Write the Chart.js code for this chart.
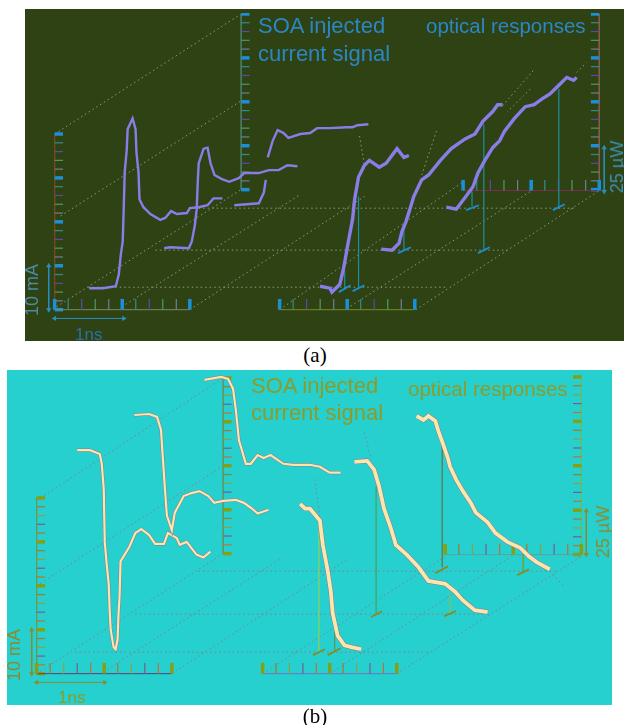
<!DOCTYPE html>
<html>
<head>
<meta charset="utf-8">
<title>SOA current signal and optical responses</title>
<script src="https://cdn.jsdelivr.net/npm/chart.js@4"></script>
<style>
    html, body { margin: 0; padding: 0; background: #fff; }
    body { position: relative; width: 624px; height: 725px; overflow: hidden; }
    .panel { position: absolute; overflow: hidden; }
    .panel canvas { position: absolute; left: 0; top: 0; }
    .txt { position: absolute; font-family: "Liberation Sans", sans-serif; font-size: 22px; line-height: 24px; white-space: nowrap; }
    .opt { font-size: 20.5px; }
    .small { font-size: 17px; }
    .rot { font-size: 18px; transform: translate(-50%, -50%) rotate(-90deg); }
    .cap { position: absolute; width: 40px; text-align: center; font-family: "Liberation Serif", serif; font-size: 21px; line-height: 20px; color: #000; }
</style>
</head>
<body>
<div class="panel" id="panelA" style="left:25px;top:9px;width:599px;height:332px;background:#2f4213">
    <canvas id="chartA" width="599" height="332"></canvas>
    <span class="txt" style="left:233px;top:5px;color:#2b87c4">SOA injected</span>
    <span class="txt" style="left:233px;top:33px;color:#2b87c4">current signal</span>
    <span class="txt opt" style="left:401px;top:5px;color:#2b87c4">optical responses</span>
    <span class="txt small" style="left:50px;top:314px;color:#2b6fa8">1ns</span>
    <span class="txt rot" style="left:7px;top:281px;color:#4b8aa0">10 mA</span>
    <span class="txt rot" style="left:592px;top:158px;color:#3a8fb0">25 µW</span>
</div>
<div class="cap" style="left:295px;top:345px">(a)</div>
<div class="panel" id="panelB" style="left:7px;top:370px;width:605px;height:335px;background:#25d0cf">
    <canvas id="chartB" width="605" height="335"></canvas>
    <span class="txt" style="left:244px;top:4px;color:#8e9b2a">SOA injected</span>
    <span class="txt" style="left:244px;top:31px;color:#8e9b2a">current signal</span>
    <span class="txt opt" style="left:401px;top:7px;color:#8e9b2a">optical responses</span>
    <span class="txt small" style="left:51px;top:316px;color:#8e9b2a">1ns</span>
    <span class="txt rot" style="left:7px;top:285px;color:#8e8a30">10 mA</span>
    <span class="txt rot" style="left:596px;top:162px;color:#8e8a30">25 µW</span>
</div>
<div class="cap" style="left:295px;top:706px">(b)</div>

<script>

// (a) current signal traces
const aCurrentFront = [[86,291],[100,291],[113,289],[116,277],[118,257],[120,243],[121,210],[122,172],[124,150],[125,128],[130,117],[133,128],[134,153],[136,172],[137,200],[141,208],[148,215],[158,221],[163,219],[169,212],[175,215],[185,214],[188,209],[197,208],[206,206],[212,199],[221,199]];
const aCurrentMid = [[162,250],[168,249],[187,250],[190,243],[193,227],[195,210],[196,183],[197,163],[202,148],[206,147],[209,163],[213,175],[220,179],[228,182],[238,178],[243,173],[258,173],[268,170],[278,170],[287,165],[297,166]];
const aCurrentBack1 = [[233,206],[258,204],[263,193],[265,180]];
const aCurrentBack2 = [[267,157],[272,140],[277,129],[283,132],[288,137],[300,133],[310,132],[317,127],[330,127],[347,126],[353,126],[358,124],[369,123]];
// (a) optical traces
const aOpticalFront = [[320,289],[330,291],[332,295],[340,287],[344,270],[348,247],[353,220],[355,200],[359,177],[365,165],[370,160],[380,167],[387,163],[398,148],[405,157],[410,155]];
const aOpticalMid = [[382,251],[393,252],[400,245],[403,233],[407,223],[412,207],[415,197],[423,180],[430,175],[442,160],[453,148],[467,138],[477,133],[485,120],[495,110],[500,103],[505,103]];
const aOpticalBack = [[448,208],[458,210],[467,198],[475,187],[480,173],[487,160],[495,147],[502,140],[507,130],[517,117],[528,105],[537,103],[545,97],[553,92],[562,83],[570,75],[577,78],[580,75]];

// (b) current signal traces
const bCurrentFront = [[74,448],[87,448],[97,452],[99,462],[101,488],[102,542],[104,565],[106,585],[107,612],[108,632],[111,650],[113,652],[115,642],[116,615],[117,598],[118,562],[127,547],[133,533],[139,529],[147,535],[153,544],[162,544],[166,533],[175,538],[178,545],[185,542],[195,555],[202,558],[209,552]];
const bCurrentMid = [[132,412],[147,411],[155,414],[159,427],[161,458],[163,488],[165,515],[170,530],[173,512],[182,495],[190,492],[198,490],[207,495],[213,502],[222,500],[235,499],[243,502],[250,507],[257,513],[268,509]];
const bCurrentBack = [[203,376],[220,373],[227,375],[232,385],[235,408],[238,438],[245,462],[250,462],[257,453],[263,456],[270,453],[283,462],[293,463],[310,463],[320,465],[330,471],[341,471]];
// (b) optical traces
const bOpticalFront = [[300,503],[305,508],[310,508],[320,520],[323,545],[328,572],[331,592],[333,615],[338,638],[345,648],[353,650],[362,652]];
const bOpticalMid = [[355,460],[368,459],[375,468],[380,485],[385,508],[392,528],[397,545],[408,555],[420,568],[430,582],[447,585],[457,593],[465,602],[477,612],[490,614]];
const bOpticalBack = [[418,413],[425,417],[430,413],[437,418],[440,428],[445,442],[450,457],[452,465],[458,478],[465,490],[473,502],[478,512],[490,522],[498,533],[510,542],[523,548],[532,557],[540,563],[553,570]];

// oblique and horizontal dotted guide lines, [x1,y1,x2,y2]
const aGuides = [[51,133,240,10],[57,217,240,99],[53,310,240,190],[119,310,300,195],[188,313,365,197],[279,313,465,182],[347,312,533,192],[417,313,603,191],
    [85,290,447,290],[153,252,510,252],[197,209,577,209],[423,175,438,130],[505,104,537,67],[533,87,510,110],[580,70,590,60],[360,135,365,165]];
const bGuides = [[37,497,222,374],[33,587,222,464],[33,677,222,554],[101,675,282,558],[170,677,348,560],[262,677,447,557],[330,677,517,555],[398,677,585,557],
    [72,655,430,655],[133,616,490,616],[197,572,560,572],[365,430,372,457],[315,478,320,518],[553,572,567,587]];

// stems below the optical traces, [x,yTop,yBottom] and their small feet [x1,y1,x2,y2]
const aStems = [[359,197,290],[345,273,292],[405,230,253],[486,123,252],[474,192,207],[562,87,208]];
const aFeet = [[353,294,365,288],[339,295,351,288],[399,255,412,249],[480,255,492,249],[468,211,481,206],[556,211,568,205]];
const bStems = [[319,518,654],[335,628,653],[377,485,615],[452,595,615],[444,438,568],[526,555,572]];
const bFeet = [[313,658,325,652],[328,658,341,651],[372,619,383,613],[446,618,458,613],[437,574,450,567],[520,576,532,570]];
const bStemColors = ['#8ad05a', '#5f9a50', '#4fa060', '#80c060', '#5f7a4f', '#70a030'];

// axes: vertical frames [x,yTop,yBottom,tickDir], horizontal frames [xLeft,xRight,y]
const aVertical = [[51,133,313,1],[240,10,190,1],[603,10,190,-1]];
const aHorizontal = [[51,188,313],[279,416,313],[465,603,191]];
const bVertical = [[33,497,677,1],[222,374,554,1],[585,373,555,-1]];
const bHorizontal = [[33,170,677],[262,398,677],[447,585,555]];

// double arrows [x1,y1,x2,y2]
const aArrows = [[51,322,121,322],[45,268,45,313],[608,147,608,192]];
const bArrows = [[33,686,102,686],[28,632,28,677],[590,510,590,555]];

const aMinorColors = ['#7d6a9a', '#2f8f8f', '#5a4aa8', '#4f9a6a', '#6d7f9a'];
const bMinorColors = ['#5e7fb0', '#a07a30', '#90a040', '#7a5a90', '#c07030'];
const aAxisColors = ['#7a4a1a', '#4a7a60', '#8a5a50', '#7a8a60', '#7a8a20', '#7a3050'];
const bAxisColors = ['#6a9a60', '#5a9a70', '#60c070', '#6a3a70', '#7a70c0', '#60a0a0'];

function line(points, color, width, dash) {
    return {
        data: points.map(p => ({ x: p[0], y: p[1] })),
        showLine: true,
        borderColor: color,
        borderWidth: width,
        borderDash: dash || [],
        pointRadius: 0,
        tension: 0
    };
}

function buildAxes(vertical, horizontal, bigColor, minor, axisColors) {
    const sets = [];
    vertical.forEach((v, n) => {
        sets.push(line([[v[0], v[1]], [v[0], v[2]]], axisColors[n], 1));
        for (let i = 0; i <= 20; i++) {
            const y = v[1] + (v[2] - v[1]) * i / 20;
            const big = i % 5 === 0;
            sets.push(line([[v[0], y], [v[0] + v[3] * 8.5, y]], big ? bigColor : minor[i % minor.length], big ? 3.5 : 1.2));
        }
    });
    horizontal.forEach((h, n) => {
        sets.push(line([[h[0], h[2]], [h[1], h[2]]], axisColors[n + 3], 1));
        for (let i = 0; i <= 10; i++) {
            const x = h[0] + (h[1] - h[0]) * i / 10;
            const big = i % 5 === 0;
            sets.push(line([[x, h[2]], [x, h[2] - 11]], big ? bigColor : minor[i % minor.length], big ? 3.5 : 1.2));
        }
    });
    return sets;
}

function arrowSets(arrows, color) {
    const sets = [];
    arrows.forEach(a => {
        const horizontal = a[1] === a[3];
        const s = line([[a[0], a[1]], [a[2], a[3]]], color, 1);
        s.pointRadius = 3;
        s.pointStyle = 'triangle';
        s.pointBackgroundColor = color;
        s.pointBorderColor = color;
        s.pointBorderWidth = 0;
        s.pointRotation = horizontal ? [-90, 90] : [0, 180];
        sets.push(s);
    });
    return sets;
}

function makeChart(id, xMin, xMax, yMin, yMax, datasets) {
    // Chart.js paints the first dataset last, so flip to keep the traces on top
    return new Chart(document.getElementById(id), {
        type: 'scatter',
        data: { datasets: datasets.reverse() },
        options: {
            responsive: false,
            animation: false,
            layout: { padding: 0 },
            plugins: { legend: { display: false }, tooltip: { enabled: false } },
            scales: {
                x: { type: 'linear', display: false, min: xMin, max: xMax },
                y: { type: 'linear', display: false, min: yMin, max: yMax, reverse: true }
            }
        }
    });
}

// panel (a)
const aSets = [];
aGuides.forEach(g => aSets.push(line([[g[0], g[1]], [g[2], g[3]]], '#8a9a80', 1, [1.5, 3])));
buildAxes(aVertical, aHorizontal, '#1c8fd8', aMinorColors, aAxisColors).forEach(s => aSets.push(s));
aStems.forEach(s => aSets.push(line([[s[0], s[1]], [s[0], s[2]]], '#1f8f9f', 1.2)));
aFeet.forEach(f => aSets.push(line([[f[0], f[1]], [f[2], f[3]]], '#1c8fd8', 1.8)));
arrowSets(aArrows, '#2a8fc0').forEach(s => aSets.push(s));
[aCurrentFront, aCurrentMid, aCurrentBack1, aCurrentBack2].forEach(c => aSets.push(line(c, '#8a7de8', 2.4)));
[aOpticalFront, aOpticalMid, aOpticalBack].forEach(c => aSets.push(line(c, '#8a7de8', 3.4)));
makeChart('chartA', 25, 624, 9, 341, aSets);

// panel (b)
const bSets = [];
bGuides.forEach(g => bSets.push(line([[g[0], g[1]], [g[2], g[3]]], '#8a7a90', 1, [1.5, 3])));
buildAxes(bVertical, bHorizontal, '#86a014', bMinorColors, bAxisColors).forEach(s => bSets.push(s));
bStems.forEach((s, i) => bSets.push(line([[s[0], s[1]], [s[0], s[2]]], bStemColors[i], 1.3)));
bFeet.forEach(f => bSets.push(line([[f[0], f[1]], [f[2], f[3]]], '#8a8a20', 1.8)));
arrowSets(bArrows, '#8e8a30').forEach(s => bSets.push(s));
[bCurrentFront, bCurrentMid, bCurrentBack].forEach(c => {
    bSets.push(line(c, '#8a7a90', 3.2));
    bSets.push(line(c, '#fbe6ac', 2.2));
});
[bOpticalFront, bOpticalMid, bOpticalBack].forEach(c => {
    bSets.push(line(c, '#8a7a90', 4.8));
    bSets.push(line(c, '#fbe6ac', 3.8));
});
makeChart('chartB', 7, 612, 370, 705, bSets);
</script>
</body>
</html>
